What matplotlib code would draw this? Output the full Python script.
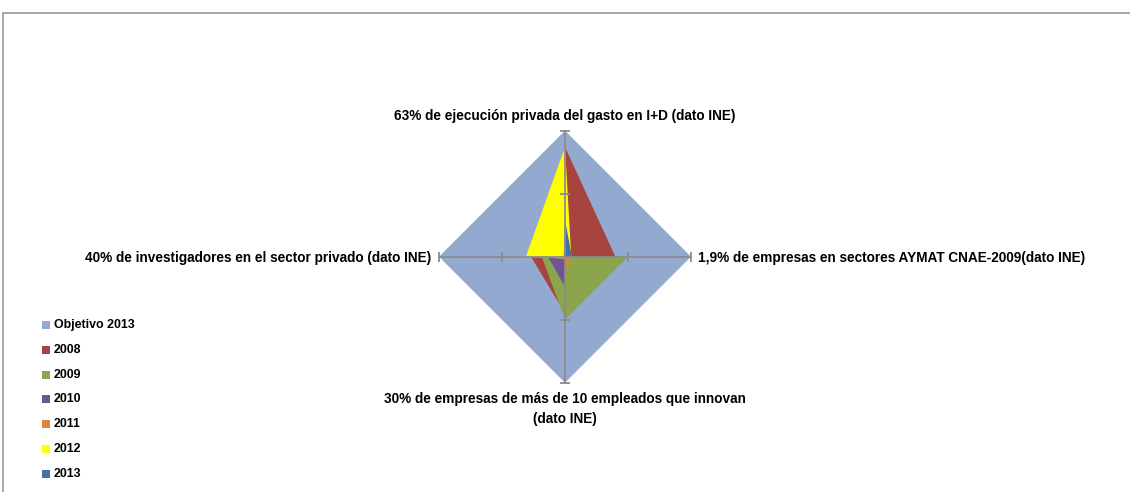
import numpy as np
import matplotlib.pyplot as plt
from matplotlib.patches import Rectangle

# ejes del radar (arriba, derecha, abajo, izquierda)
ejes = ['63% de ejecución privada del gasto en I+D (dato INE)',
        '1,9% de empresas en sectores AYMAT CNAE-2009(dato INE)',
        '30% de empresas de más de 10 empleados que innovan\n(dato INE)',
        '40% de investigadores en el sector privado (dato INE)']

series = ['Objetivo 2013', '2008', '2009', '2010', '2011', '2012', '2013']
objetivo = [1.0, 1.0, 1.0, 1.0]
v2008 = [0.87, 0.40, 0.45, 0.27]
v2009 = [0.0, 0.50, 0.50, 0.185]
v2010 = [0.0, 0.01, 0.24, 0.135]
v2011 = [0.02, 0.04, 0.14, 0.0]
v2012 = [0.87, 0.05, 0.015, 0.31]
v2013 = [0.29, 0.055, 0.01, 0.01]
valores = [objetivo, v2008, v2009, v2010, v2011, v2012, v2013]
colores = ['#93A9CF', '#A7443F', '#8AA54B', '#6F5593', '#E0833C', '#FFFF00', '#4471AA']

plt.rcParams['font.family'] = ['Liberation Sans', 'DejaVu Sans']

fig = plt.figure(figsize=(11.3, 4.92), dpi=100)

# marco del grafico
fig.patches.append(Rectangle((3/1130, -0.1), 1.2, (492-13)/492 + 0.1,
                             transform=fig.transFigure, fill=False,
                             edgecolor='#9a9a9a', linewidth=1.2))

R = 126
cx, cy = 565, 256.7
ax = fig.add_axes([(cx-R)/1130, (492-cy-R)/492, 2*R/1130, 2*R/492], projection='polar')
ax.set_theta_offset(np.pi/2)
ax.set_theta_direction(-1)
ax.set_ylim(0, 1)
ax.axis('off')

theta = np.arange(4) * np.pi/2
for vals, c in zip(valores, colores):
    ax.fill(np.append(theta, theta[0]), vals + vals[:1], color=c, linewidth=0, zorder=2)

# lineas de los ejes con marcas
for i, t in enumerate(theta):
    ax.plot([t, t], [0, 1], color='#8c8c8c', linewidth=1.3, zorder=3, clip_on=False)
    mk = '_' if i % 2 == 0 else '|'
    ax.plot([t, t], [0.5, 1.0], linestyle='none', marker=mk, markersize=7,
            markeredgewidth=1.3, color='#8c8c8c', zorder=3, clip_on=False)

kw = dict(fontsize=9.8, fontweight='bold', color='black')
fig.text(565/1130, 1 - 116/492, ejes[0], ha='center', va='center', **kw)
fig.text(698/1130, 1 - 258/492, ejes[1], ha='left', va='center', **kw)
fig.text(565/1130, 1 - 392/492, ejes[2], ha='center', va='top', linespacing=1.55, **kw)
fig.text(431/1130, 1 - 258/492, ejes[3], ha='right', va='center', **kw)

# leyenda
y0 = 325
for i, (s, c) in enumerate(zip(series, colores)):
    y = y0 + i * 24.8
    fig.patches.append(Rectangle((42/1130, 1 - (y + 4)/492), 8/1130, 8/492,
                                 transform=fig.transFigure, facecolor=c, edgecolor='none'))
    fig.text(54/1130, 1 - y/492, s, ha='left', va='center', fontsize=8.9, fontweight='bold')

fig.savefig('out.png', dpi=100)
